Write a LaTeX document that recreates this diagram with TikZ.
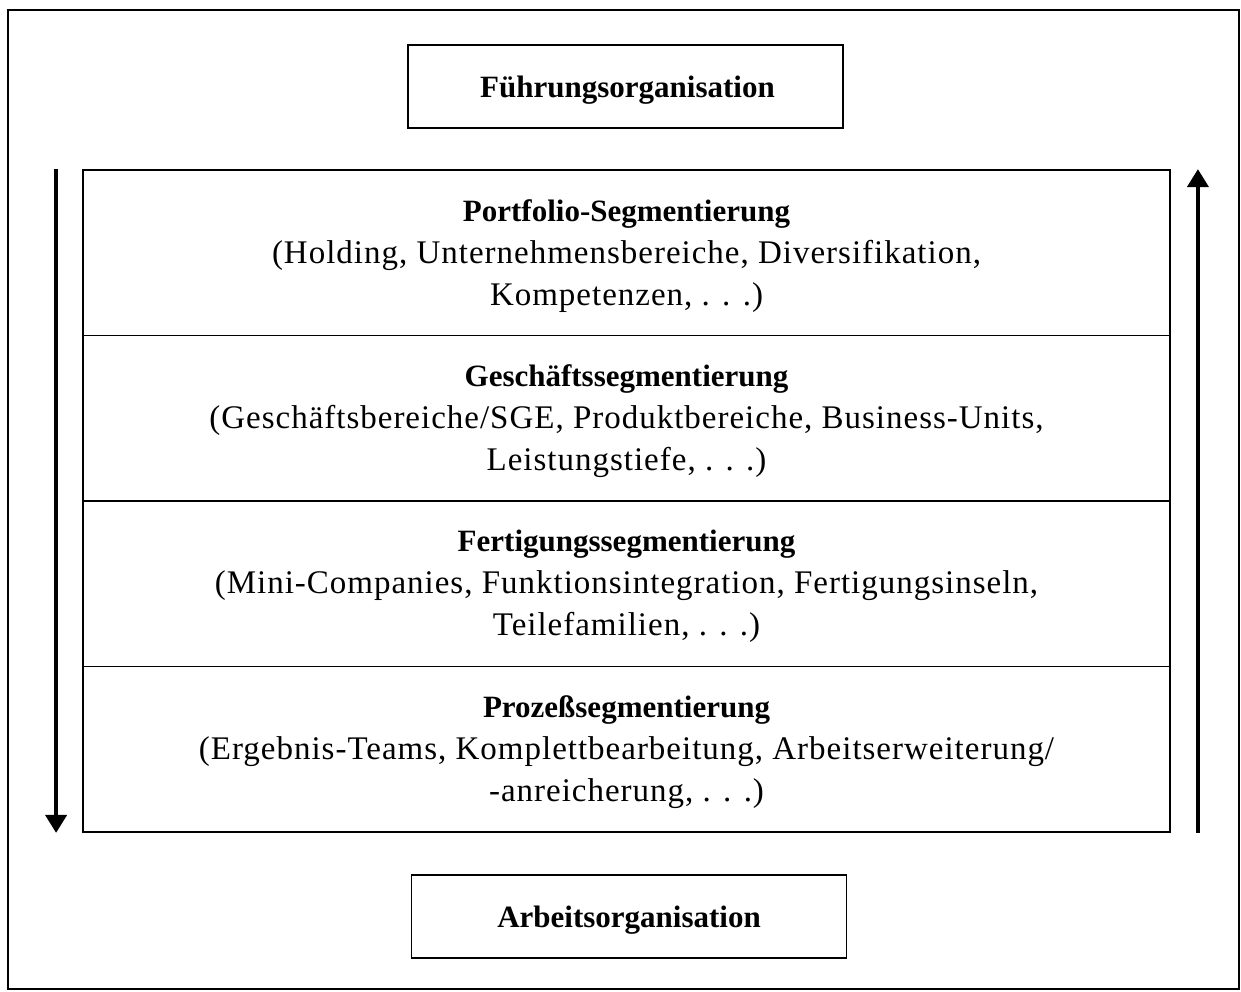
\documentclass[tikz,border=0pt]{standalone}
\usepackage{fontspec}
\setmainfont{Liberation Serif}
\newfontfamily\bodyfont[LetterSpace=3]{Liberation Serif}
\newfontfamily\headfont{Liberation Serif}
\usetikzlibrary{arrows.meta,calc}
\tikzset{
  frame/.style={draw, line width=1.6pt},
  labelbox/.style={draw, line width=1.8pt, minimum width=435pt, minimum height=83pt, inner sep=0pt},
  layer/.style={draw, line width=1.8pt, minimum width=1087pt, minimum height=165.5pt, inner sep=0pt},
  labeltext/.style={inner sep=0pt, font=\fontsize{31}{42}\selectfont\bfseries},
  layertext/.style={inner sep=0pt, align=center, font=\fontsize{33}{42}\selectfont\bodyfont},
  bigarrow/.style={line width=4pt, -{Triangle[width=21pt,length=18pt]}}
}
\newcommand{\headline}[1]{{\headfont\fontsize{31}{42}\selectfont\bfseries #1}}
\begin{document}
\begin{tikzpicture}[x=1pt,y=-1pt]
\useasboundingbox (0,0) rectangle (1241,992);
\draw[frame] (8,989) -- (8,10) -- (1239,10) -- (1239,989) -- cycle;
\node[labelbox] (fo) at (625.5,86.5) {};
\node[labeltext] (fot) at ($(fo.center)+(2,4)$) {Führungsorganisation};
\node[layer] (l1) at (626.5,252.75) {};
\node[layer] (l2) at (626.5,418.25) {};
\node[layer] (l3) at (626.5,583.75) {};
\node[layer] (l4) at (626.5,749.25) {};
\node[layertext] (t1) at ($(l1.center)+(0,3)$) {\headline{Portfolio-Segmentierung}\\(Holding, Unternehmensbereiche, Diversifikation,\\Kompetenzen, . . .)};
\node[layertext] (t2) at ($(l2.center)+(0,3)$) {\headline{Geschäftssegmentierung}\\(Geschäftsbereiche/SGE, Produktbereiche, Business-Units,\\Leistungstiefe, . . .)};
\node[layertext] (t3) at ($(l3.center)+(0,3)$) {\headline{Fertigungssegmentierung}\\(Mini-Companies, Funktionsintegration, Fertigungsinseln,\\Teilefamilien, . . .)};
\node[layertext] (t4) at ($(l4.center)+(0,3)$) {\headline{Prozeßsegmentierung}\\(Ergebnis-Teams, Komplettbearbeitung, Arbeitserweiterung/\\-anreicherung, . . .)};
\node[labelbox] (ao) at (629,916.5) {};
\node[labeltext] (aot) at ($(ao.center)+(0,4)$) {Arbeitsorganisation};
\coordinate (ltop) at ($(l1.north west)+(-26,0)$);
\coordinate (lbot) at ($(l4.south west)+(-26,0)$);
\coordinate (rtop) at ($(l1.north east)+(27,0)$);
\coordinate (rbot) at ($(l4.south east)+(27,0)$);
\draw[bigarrow] (ltop) -- (lbot);
\draw[bigarrow] (rbot) -- (rtop);
\end{tikzpicture}
\end{document}
